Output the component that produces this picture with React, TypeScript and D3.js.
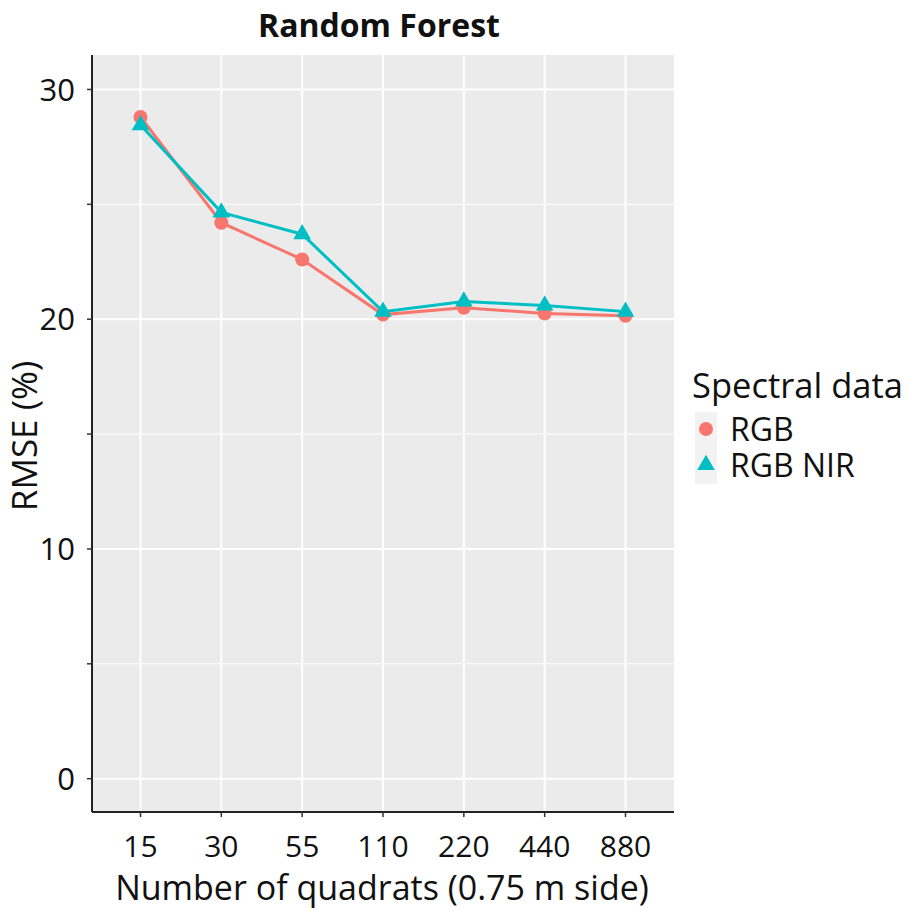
import React from "react";
import * as d3 from "d3";

// chart data
const quadrats = ["15", "30", "55", "110", "220", "440", "880"];
const rgbValues = [28.8, 24.2, 22.6, 20.2, 20.5, 20.25, 20.15];
const rgbNirValues = [28.45, 24.65, 23.7, 20.33, 20.77, 20.6, 20.33];
const yTicks = [0, 10, 20, 30];
const yMinorTicks = [5, 15, 25];

const seriesNames = ["RGB", "RGB NIR"];
const seriesColors = ["#F8766D", "#00BFC4"];

const W = 910;
const H = 911;
const margin = { left: 92, right: 674, top: 55, bottom: 812 };
const font = "'Open Sans', Lato, sans-serif";

const App = () => {
  // discrete x with ggplot-like 0.6 expansion
  const step = (margin.right - margin.left) / (quadrats.length - 1 + 1.2);
  const x = (i: number) => margin.left + step * (0.6 + i);
  const y = d3.scaleLinear().domain([-1.45, 31.5]).range([margin.bottom, margin.top]);

  const series = [rgbValues, rgbNirValues];
  const line = d3
    .line<number>()
    .x((_, i) => x(i))
    .y((d) => y(d));

  const tri = d3.symbol().type(d3.symbolTriangle).size(135)();

  return (
    <svg
      width={W}
      height={H}
      style={{ position: "absolute", left: 0, top: 0, background: "white" }}
      fontFamily={font}
    >
      {/* panel */}
      <rect
        x={margin.left}
        y={margin.top}
        width={margin.right - margin.left}
        height={margin.bottom - margin.top}
        fill="#EBEBEB"
      />
      {yMinorTicks.map((t) => (
        <line key={"m" + t} x1={margin.left} x2={margin.right} y1={y(t)} y2={y(t)} stroke="white" strokeWidth={1} />
      ))}
      {yTicks.map((t) => (
        <line key={"g" + t} x1={margin.left} x2={margin.right} y1={y(t)} y2={y(t)} stroke="white" strokeWidth={2} />
      ))}
      {quadrats.map((q, i) => (
        <line key={"v" + q} x1={x(i)} x2={x(i)} y1={margin.top} y2={margin.bottom} stroke="white" strokeWidth={2} />
      ))}

      {/* lines */}
      {series.map((s, k) => (
        <path key={"l" + k} d={line(s) || ""} fill="none" stroke={seriesColors[k]} strokeWidth={3} />
      ))}
      {/* points */}
      {rgbValues.map((v, i) => (
        <circle key={"c" + i} cx={x(i)} cy={y(v)} r={7} fill={seriesColors[0]} />
      ))}
      {rgbNirValues.map((v, i) => (
        <path key={"t" + i} d={tri || ""} transform={`translate(${x(i)},${y(v)})`} fill={seriesColors[1]} />
      ))}

      {/* axes */}
      <line x1={margin.left} x2={margin.left} y1={margin.top} y2={margin.bottom} stroke="#222" strokeWidth={2} />
      <line x1={margin.left} x2={margin.right} y1={margin.bottom} y2={margin.bottom} stroke="#222" strokeWidth={2} />
      {yTicks.concat(yMinorTicks).map((t) => (
        <line key={"yt" + t} x1={margin.left - 5} x2={margin.left} y1={y(t)} y2={y(t)} stroke="#333" strokeWidth={1.5} />
      ))}
      {yTicks.map((t) => (
        <text key={"yl" + t} x={75} y={y(t)} dy="0.36em" textAnchor="end" fontSize={31} fill="#111">
          {t}
        </text>
      ))}
      {quadrats.map((q, i) => (
        <g key={"xt" + q}>
          <line x1={x(i)} x2={x(i)} y1={margin.bottom} y2={margin.bottom + 5} stroke="#333" strokeWidth={1.5} />
          <text x={x(i)} y={857} textAnchor="middle" fontSize={30} fill="#111">
            {q}
          </text>
        </g>
      ))}

      {/* titles */}
      <text x={382} y={900} textAnchor="middle" fontSize={34} fill="#111">
        Number of quadrats (0.75 m side)
      </text>
      <text transform={`translate(37,436) rotate(-90)`} textAnchor="middle" fontSize={35} fill="#111">
        RMSE (%)
      </text>
      <text x={379} y={37} textAnchor="middle" fontSize={32} fontWeight="bold" fill="#111">
        Random Forest
      </text>

      {/* legend */}
      <text x={692} y={398} fontSize={34.5} fill="#111">
        Spectral data
      </text>
      {seriesNames.map((n, k) => (
        <g key={"lg" + n} transform={`translate(706,${429 + k * 36})`}>
          <rect x={-11} y={-17} width={22} height={36} fill="#F2F2F2" />
          {k === 0 ? (
            <circle r={7} fill={seriesColors[0]} />
          ) : (
            <path d={tri || ""} fill={seriesColors[1]} />
          )}
          <text x={24} y={0} dy="0.36em" fontSize={32} fill="#111">
            {n}
          </text>
        </g>
      ))}
    </svg>
  );
};

export default App;
